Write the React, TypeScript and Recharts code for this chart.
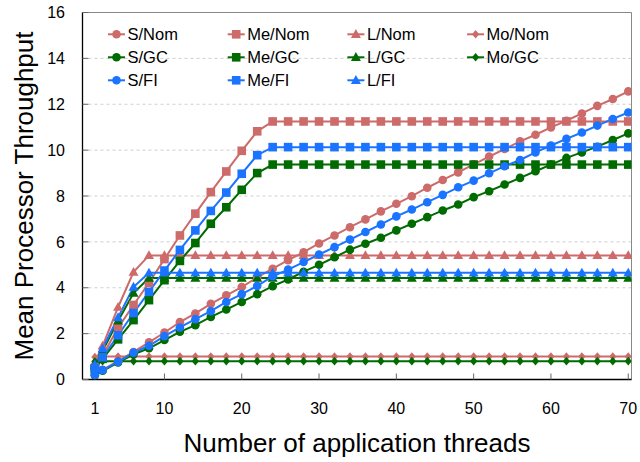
import React from 'react';
import { LineChart, Line, XAxis, YAxis, CartesianGrid, ReferenceLine, Legend } from 'recharts';

const threads = [1, 2, 4, 6, 8, 10, 12, 14, 16, 18, 20, 22, 24, 26, 28, 30, 32, 34, 36, 38, 40, 42, 44, 46, 48, 50, 52, 54, 56, 58, 60, 62, 64, 66, 68, 70];

const sNom = [0.22, 0.42, 0.8, 1.2, 1.62, 2.05, 2.5, 2.88, 3.3, 3.67, 4.03, 4.45, 4.83, 5.2, 5.55, 5.93, 6.28, 6.64, 6.98, 7.33, 7.66, 7.99, 8.36, 8.7, 9.03, 9.38, 9.72, 10.05, 10.38, 10.67, 10.99, 11.28, 11.6, 11.93, 12.23, 12.56];
const meNom = [0.5, 1.05, 2.25, 3.25, 4.22, 5.25, 6.28, 7.23, 8.17, 9.07, 9.97, 10.82, 11.25, 11.25, 11.25, 11.25, 11.25, 11.25, 11.25, 11.25, 11.25, 11.25, 11.25, 11.25, 11.25, 11.25, 11.25, 11.25, 11.25, 11.25, 11.25, 11.25, 11.25, 11.25, 11.25, 11.25];
const lNom = [0.75, 1.46, 3.15, 4.68, 5.41, 5.41, 5.41, 5.41, 5.41, 5.41, 5.41, 5.41, 5.41, 5.41, 5.41, 5.41, 5.41, 5.41, 5.41, 5.41, 5.41, 5.41, 5.41, 5.41, 5.41, 5.41, 5.41, 5.41, 5.41, 5.41, 5.41, 5.41, 5.41, 5.41, 5.41, 5.41];
const moNom = [0.98, 1.0, 1.0, 1.0, 1.0, 1.0, 1.0, 1.0, 1.0, 1.0, 1.0, 1.0, 1.0, 1.0, 1.0, 1.0, 1.0, 1.0, 1.0, 1.0, 1.0, 1.0, 1.0, 1.0, 1.0, 1.0, 1.0, 1.0, 1.0, 1.0, 1.0, 1.0, 1.0, 1.0, 1.0, 1.0];

const sGC = [0.19, 0.38, 0.74, 1.1, 1.36, 1.72, 2.08, 2.37, 2.73, 3.05, 3.38, 3.72, 4.07, 4.36, 4.7, 5.0, 5.33, 5.66, 5.92, 6.18, 6.5, 6.79, 7.08, 7.37, 7.63, 7.95, 8.21, 8.5, 8.79, 9.08, 9.37, 9.66, 9.9, 10.15, 10.44, 10.73];
const meGC = [0.45, 0.9, 1.75, 2.59, 3.46, 4.33, 5.17, 5.95, 6.79, 7.51, 8.27, 9.0, 9.37, 9.37, 9.37, 9.37, 9.37, 9.37, 9.37, 9.37, 9.37, 9.37, 9.37, 9.37, 9.37, 9.37, 9.37, 9.37, 9.37, 9.37, 9.37, 9.37, 9.37, 9.37, 9.37, 9.37];
const lGC = [0.6, 1.25, 2.55, 3.77, 4.42, 4.42, 4.42, 4.42, 4.42, 4.42, 4.42, 4.42, 4.42, 4.42, 4.42, 4.42, 4.42, 4.42, 4.42, 4.42, 4.42, 4.42, 4.42, 4.42, 4.42, 4.42, 4.42, 4.42, 4.42, 4.42, 4.42, 4.42, 4.42, 4.42, 4.42, 4.42];
const moGC = [0.78, 0.8, 0.8, 0.8, 0.8, 0.8, 0.8, 0.8, 0.8, 0.8, 0.8, 0.8, 0.8, 0.8, 0.8, 0.8, 0.8, 0.8, 0.8, 0.8, 0.8, 0.8, 0.8, 0.8, 0.8, 0.8, 0.8, 0.8, 0.8, 0.8, 0.8, 0.8, 0.8, 0.8, 0.8, 0.8];

const sFI = [0.2, 0.41, 0.77, 1.17, 1.47, 1.89, 2.27, 2.63, 2.98, 3.38, 3.72, 4.08, 4.5, 4.79, 5.12, 5.45, 5.77, 6.1, 6.43, 6.76, 7.11, 7.41, 7.73, 8.05, 8.38, 8.67, 8.99, 9.3, 9.57, 9.9, 10.2, 10.49, 10.77, 11.07, 11.36, 11.64];
const meFI = [0.5, 0.97, 1.93, 2.9, 3.82, 4.75, 5.65, 6.5, 7.35, 8.15, 8.97, 9.78, 10.13, 10.13, 10.13, 10.13, 10.13, 10.13, 10.13, 10.13, 10.13, 10.13, 10.13, 10.13, 10.13, 10.13, 10.13, 10.13, 10.13, 10.13, 10.13, 10.13, 10.13, 10.13, 10.13, 10.13];
const lFI = [0.65, 1.35, 2.7, 4.03, 4.65, 4.65, 4.65, 4.65, 4.65, 4.65, 4.65, 4.65, 4.65, 4.65, 4.65, 4.65, 4.65, 4.65, 4.65, 4.65, 4.65, 4.65, 4.65, 4.65, 4.65, 4.65, 4.65, 4.65, 4.65, 4.65, 4.65, 4.65, 4.65, 4.65, 4.65, 4.65];

const xTicks = [1, 10, 20, 30, 40, 50, 60, 70];
const yTicks = [0, 2, 4, 6, 8, 10, 12, 14, 16];

const NOM = '#cd6a6a';
const GC = '#006b00';
const FI = '#1a74ff';
const FONT = '"Liberation Sans", Arial, Helvetica, sans-serif';

type Shape = 'circle' | 'square' | 'triangle' | 'diamond';
interface Series { key: string; name: string; color: string; shape: Shape; values: number[] }

const series: Series[] = [
  { key: 'sNom', name: 'S/Nom', color: NOM, shape: 'circle', values: sNom },
  { key: 'meNom', name: 'Me/Nom', color: NOM, shape: 'square', values: meNom },
  { key: 'lNom', name: 'L/Nom', color: NOM, shape: 'triangle', values: lNom },
  { key: 'moNom', name: 'Mo/Nom', color: NOM, shape: 'diamond', values: moNom },
  { key: 'sGC', name: 'S/GC', color: GC, shape: 'circle', values: sGC },
  { key: 'meGC', name: 'Me/GC', color: GC, shape: 'square', values: meGC },
  { key: 'lGC', name: 'L/GC', color: GC, shape: 'triangle', values: lGC },
  { key: 'moGC', name: 'Mo/GC', color: GC, shape: 'diamond', values: moGC },
  { key: 'sFI', name: 'S/FI', color: FI, shape: 'circle', values: sFI },
  { key: 'meFI', name: 'Me/FI', color: FI, shape: 'square', values: meFI },
  { key: 'lFI', name: 'L/FI', color: FI, shape: 'triangle', values: lFI },
];

const data = threads.map((t, i) => {
  const row: Record<string, number> = { t };
  series.forEach((s) => { row[s.key] = s.values[i]; });
  return row;
});

function Marker({ cx, cy, shape, color }: { cx: number; cy: number; shape: Shape; color: string }) {
  if (cx == null || cy == null || isNaN(cx) || isNaN(cy)) return null;
  switch (shape) {
    case 'circle':
      return <circle cx={cx} cy={cy} r={4.3} fill={color} />;
    case 'square':
      return <rect x={cx - 4.3} y={cy - 4.3} width={8.6} height={8.6} fill={color} />;
    case 'triangle':
      return <polygon points={`${cx},${cy - 5.2} ${cx + 5},${cy + 3.6} ${cx - 5},${cy + 3.6}`} fill={color} />;
    default:
      return <polygon points={`${cx},${cy - 4.3} ${cx + 3.6},${cy} ${cx},${cy + 4.3} ${cx - 3.6},${cy}`} fill={color} />;
  }
}

function LegendBox() {
  const colW = 119.7;
  const rowH = 23;
  return (
    <svg width={520} height={80} style={{ overflow: 'visible' }}>
      {series.map((s, i) => {
        const c = i % 4;
        const r = Math.floor(i / 4);
        const x0 = 8 + c * colW;
        const cy = 14.3 + r * rowH;
        return (
          <g key={s.key}>
            <line x1={x0} x2={x0 + 17} y1={cy} y2={cy} stroke={s.color} strokeWidth={2} />
            <Marker cx={x0 + 8.5} cy={cy} shape={s.shape} color={s.color} />
            <text x={x0 + 19.5} y={cy + 5.8} fontSize={16.5} fontFamily={FONT} fill="#000">{s.name}</text>
          </g>
        );
      })}
    </svg>
  );
}

function XTitle(props: any) {
  const vb = props.viewBox || { x: 0, y: 0, width: 0, height: 0 };
  return (
    <text x={vb.x + vb.width / 2} y={vb.y + 72} textAnchor="middle" fontSize={26} fontFamily={FONT} fill="#000">
      Number of application threads
    </text>
  );
}

function YTitle(props: any) {
  const vb = props.viewBox || { x: 0, y: 0, width: 0, height: 0 };
  const x = vb.x + 33.3;
  const y = vb.y + vb.height / 2;
  return (
    <text x={x} y={y} transform={`rotate(-90, ${x}, ${y})`} textAnchor="middle" fontSize={26} fontFamily={FONT} fill="#000">
      Mean Processor Throughput
    </text>
  );
}

export default function App() {
  return (
    <div style={{ position: 'absolute', left: 0, top: 0, width: 640, height: 462 }}>
      <LineChart
        width={640}
        height={462}
        data={data}
        margin={{ top: 12.5, right: 8.5, bottom: 0, left: 0 }}
        style={{ fontFamily: FONT }}
      >
        <CartesianGrid vertical={false} stroke="#cfcfcf" strokeDasharray="3 3" />
        <XAxis
          dataKey="t"
          type="number"
          domain={[-0.6, 70.42]}
          allowDataOverflow
          ticks={xTicks}
          interval={0}
          height={82.5}
          tickSize={-6}
          tickMargin={29}
          axisLine={{ stroke: '#000', strokeWidth: 1.3 }}
          tickLine={{ stroke: '#666' }}
          tick={{ fill: '#000', fontSize: 16, fontFamily: FONT }}
          label={<XTitle />}
        />
        <YAxis
          type="number"
          domain={[0, 16]}
          allowDataOverflow
          ticks={yTicks}
          interval={0}
          width={82.5}
          tickSize={-6}
          tickMargin={23.5}
          axisLine={{ stroke: '#000', strokeWidth: 1.3 }}
          tickLine={{ stroke: '#666' }}
          tick={{ fill: '#000', fontSize: 16, fontFamily: FONT }}
          label={<YTitle />}
        />
        <ReferenceLine y={16} stroke="#888" strokeWidth={1} />
        <ReferenceLine x={70.42} stroke="#888" strokeWidth={1} />
        {series.map((s) => (
          <Line
            key={s.key}
            dataKey={s.key}
            name={s.name}
            type="linear"
            stroke={s.color}
            strokeWidth={2}
            isAnimationActive={false}
            activeDot={false}
            dot={(p: any) => <Marker key={`${s.key}-${p.index}`} cx={p.cx} cy={p.cy} shape={s.shape} color={s.color} />}
          />
        ))}
        <Legend
          layout="horizontal"
          verticalAlign="middle"
          align="center"
          content={() => <LegendBox />}
          wrapperStyle={{ position: 'absolute', left: 100, top: 20, width: 520, height: 80 }}
        />
      </LineChart>
    </div>
  );
}
